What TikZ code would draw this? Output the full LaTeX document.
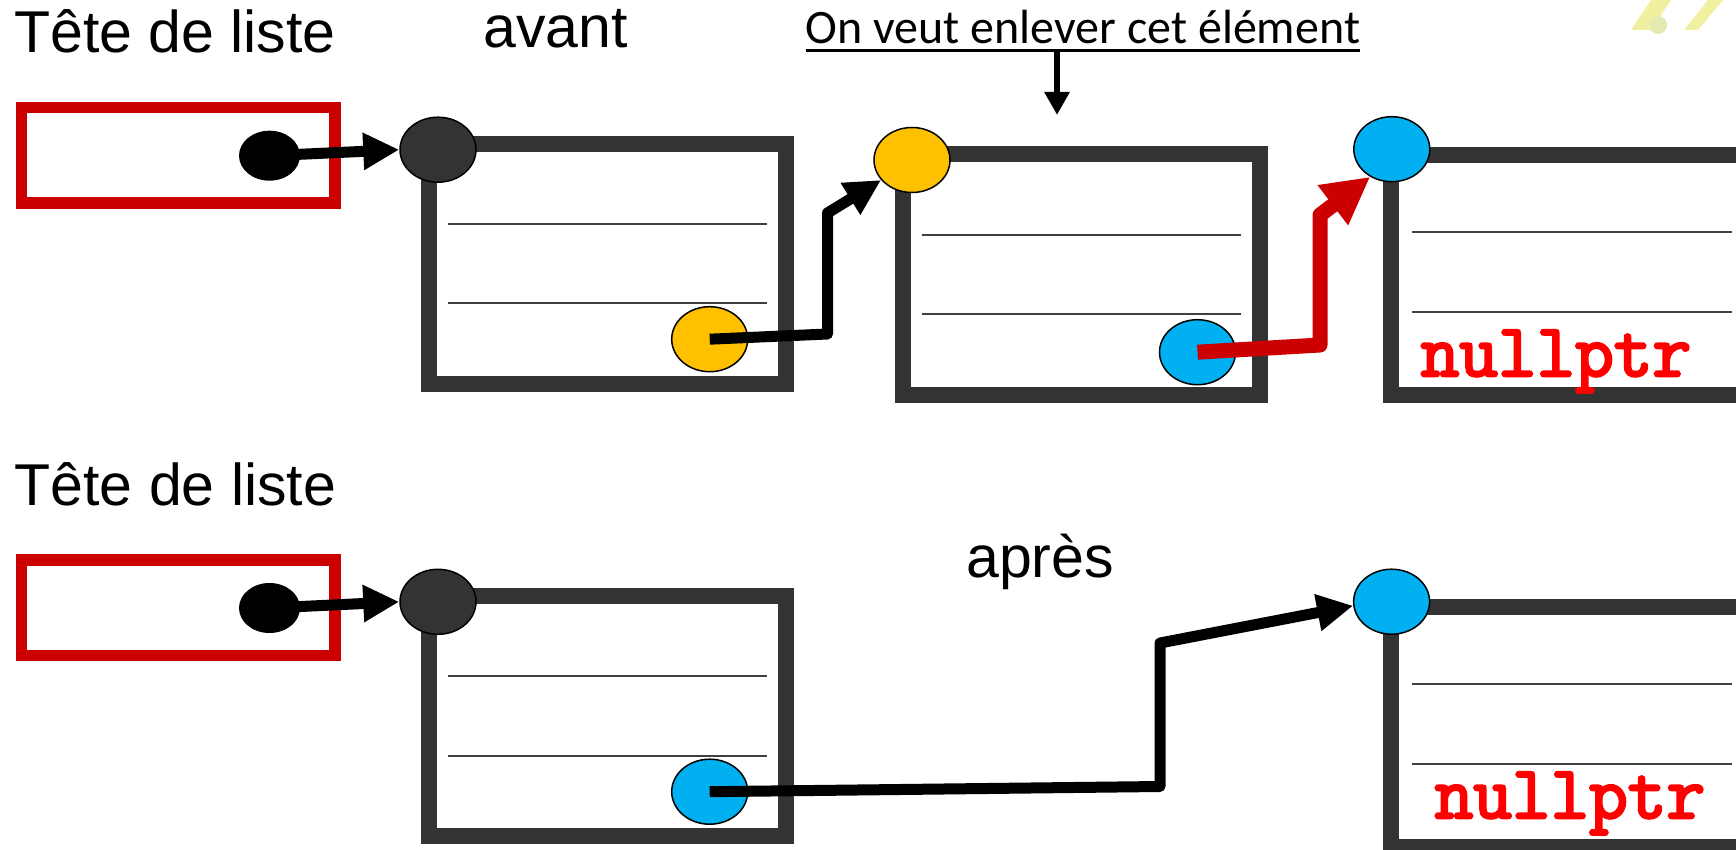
\documentclass[tikz,border=0pt]{standalone}
\usepackage{fontspec}
\setmainfont{Liberation Sans}
\newfontfamily\calfont{Carlito}
\newfontfamily\codefont{Latin Modern Mono}[FakeBold=3.5]
\usetikzlibrary{arrows.meta,shapes.geometric}
\definecolor{framegray}{RGB}{51,51,51}
\definecolor{sepgray}{RGB}{64,64,64}
\definecolor{headred}{RGB}{204,0,0}
\definecolor{ylw}{RGB}{255,192,0}
\definecolor{blu}{RGB}{0,176,240}
\definecolor{nullred}{RGB}{255,0,0}
\definecolor{pale}{RGB}{240,240,160}
\definecolor{palegreen}{RGB}{228,234,175}
\begin{document}
\begin{tikzpicture}[x=1pt,y=-1pt,
  cell/.style={draw=framegray,line width=16pt,rectangle,minimum width=357pt,minimum height=240pt,inner sep=0pt,outer sep=0pt,anchor=north west},
  headbox/.style={draw=headred,line width=11.7pt,rectangle,minimum width=313.3pt,minimum height=95.5pt,inner sep=0pt,outer sep=0pt,anchor=north west},
  dot/.style={ellipse,draw=black,line width=1.5pt,minimum width=76pt,minimum height=65pt,inner sep=0pt},
  headdot/.style={ellipse,fill=black,minimum width=61pt,minimum height=50pt,inner sep=0pt},
  sepline/.style={draw=sepgray,line width=2pt},
  ptr/.style={line width=11pt,line join=round,-{Triangle[length=36pt,width=35pt]}},
  rptr/.style={draw=headred,line width=15pt,line join=round,-{Triangle[length=47pt,width=47pt,fill=headred]}},
  big/.style={font=\fontsize{59}{62}\selectfont,inner sep=0pt,anchor=base west},
  nullt/.style={font=\codefont\fontsize{75}{78}\selectfont,text=nullred,inner sep=0pt,anchor=base west}
]
\clip (0,0) rectangle (1736,850);
\fill[white] (0,0) rectangle (1736,850);

% decoration top right
\fill[pale] (1631,30) -- (1651,30) -- (1671,0) -- (1651,0) -- cycle;
\fill[palegreen] (1658,25) circle[radius=9];
\fill[pale] (1684,30) -- (1698,30) -- (1723,0) -- (1708,0) -- cycle;

% texts
\node[big] (t1) at (14,53) {Tête de liste};
\node[big] (av) at (483,48) {avant};
\node[big] (t2) at (14.5,505.5) {Tête de liste};
\node[big] (ap) at (966,577) {après};
\node[font=\calfont\fontsize{48}{51}\selectfont,inner sep=0pt,anchor=base west] (title) at (805.5,44) {On veut enlever cet élément};
\draw[line width=2.7pt] ([yshift=-6.7pt]title.base west) -- ([yshift=-6.7pt]title.base east);
\coordinate (ua) at (1057,50.7);
\coordinate (ub) at (1057,115);
\draw[line width=6pt,-{Triangle[length=23pt,width=24pt]}] (ua) -- (ub);

% top row
\node[headbox] (hb1) at (21.5,107.5) {};
\node[cell] (c1) at (429,143.7) {};
\node[cell,minimum width=356.5pt] (c2) at (903,154.5) {};
\node[cell] (c3) at (1391,154.7) {};
\draw[sepline] (448,223.7) -- (766.7,223.7);
\draw[sepline] (448,303.3) -- (766.7,303.3);
\draw[sepline] (921.7,234.7) -- (1241,234.7);
\draw[sepline] (921.7,314.3) -- (1241,314.3);
\draw[sepline] (1412,231.7) -- (1732,231.7);
\draw[sepline] (1412,311.7) -- (1732,311.7);
\node[nullt] (n1) at (1420.5,376) {nullptr};

\node[headdot] (e1) at (269.5,155.7) {};
\node[dot,fill=framegray] (d1) at (438,149.7) {};
\node[dot,fill=ylw] (y1) at (709.7,339.2) {};
\node[dot,fill=ylw] (y2) at (912,160) {};
\node[dot,fill=blu] (b2) at (1197.5,352.2) {};
\node[dot,fill=blu] (b3) at (1391.8,149.2) {};

\draw[ptr] (e1.center) -- (d1.west);
\draw[ptr] (y1.center) -- (827.5,334) -- (827.5,213) -- (y2.213);
\draw[rptr] (b2.center) -- (1320,345) -- (1320,215) -- (b3.232);

% bottom row
\node[headbox] (hb2) at (21.5,560) {};
\node[cell] (c4) at (429,596) {};
\node[cell] (c5) at (1391,607.2) {};
\draw[sepline] (448,676.2) -- (766.7,676.2);
\draw[sepline] (448,755.8) -- (766.7,755.8);
\draw[sepline] (1412,684.2) -- (1732,684.2);
\draw[sepline] (1412,764.2) -- (1732,764.2);
\node[nullt] (n2) at (1434.5,818) {nullptr};

\node[headdot] (e2) at (269.5,608) {};
\node[dot,fill=framegray] (d2) at (438,601.8) {};
\node[dot,fill=blu] (b1) at (709.7,791.7) {};
\node[dot,fill=blu] (b4) at (1391.6,601.7) {};

\draw[ptr] (e2.center) -- (d2.west);
\draw[ptr] (b1.center) -- (1160,786.5) -- (1160,643) -- (b4.186);
\end{tikzpicture}
\end{document}
